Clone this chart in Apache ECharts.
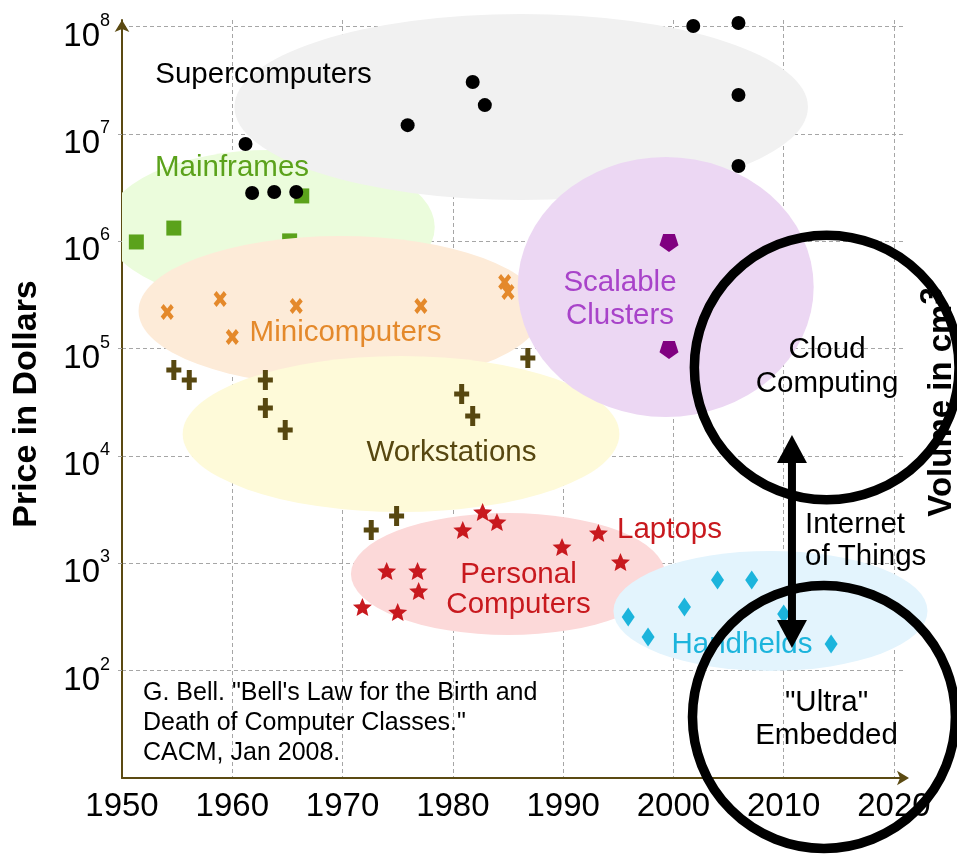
<!DOCTYPE html>
<html><head><meta charset="utf-8">
<script src="https://cdn.jsdelivr.net/npm/echarts@6/dist/echarts.min.js"></script>
<style>html,body{margin:0;padding:0;background:#fff}#c{width:957px;height:854px}</style>
</head><body><div id="c"></div>
<script>
const FONT = '"Liberation Sans", Arial, Helvetica, sans-serif';

// ---------- data (years / prices in dollars) ----------
const superYears  = [1961.2, 1961.8, 1963.8, 1965.8, 1975.9, 1981.8, 1982.9, 2001.8, 2005.9, 2005.9, 2005.9];
const superPrices = [8.07e6, 2.82e6, 2.88e6, 2.88e6, 1.21e7, 3.05e7, 1.86e7, 1.015e8, 1.083e8, 2.31e7, 5.04e6];

const mainYears  = [1951.3, 1954.7, 1966.3, 1965.2];
const mainPrices = [9.87e5, 1.33e6, 2.65e6, 1.01e6];

const miniYears  = [1954.1, 1958.9, 1960.0, 1965.8, 1977.1, 1984.7, 1985.0];
const miniPrices = [2.2e5, 2.9e5, 1.285e5, 2.5e5, 2.5e5, 4.18e5, 3.375e5];

const wsYears  = [1954.7, 1956.1, 1963.0, 1963.0, 1964.8, 1986.8, 1980.8, 1981.8, 1974.9, 1972.6];
const wsPrices = [6.33e4, 5.11e4, 5.11e4, 2.8e4, 1.75e4, 8.19e4, 3.79e4, 2.36e4, 2.76e3, 2.05e3];

const pcYears  = [1982.7, 1984.0, 1980.9, 1989.9, 1993.2, 1995.2, 1974.0, 1976.8, 1976.9, 1971.8, 1975.0];
const pcPrices = [3010, 2430, 2050, 1420, 1920, 1030, 849, 849, 553, 392, 352];

const clusterYears  = [1999.6, 1999.6];
const clusterPrices = [9.65e5, 9.72e4];

const handYears  = [2004.0, 2007.1, 2001.0, 1995.9, 1997.7, 2010.0, 2014.3];
const handPrices = [699, 699, 392, 316, 206, 337, 177];

// class regions: centre year, centre price, half-width (years), half-height (decades)
const regionNames        = ['Mainframes', 'Supercomputers', 'Minicomputers', 'Workstations', 'Scalable Clusters', 'Personal Computers', 'Handhelds'];
const regionYears        = [1963.4, 1986.2, 1969.8, 1975.3, 1999.3, 1985.0, 2008.8];
const regionPrices       = [1.361e6, 1.786e7, 2.244e5, 1.603e4, 3.758e5, 796, 360];
const regionHalfYears    = [14.96, 26.0, 18.3, 19.8, 13.42, 14.24, 14.24];
const regionHalfDecades  = [0.717, 0.867, 0.699, 0.727, 1.211, 0.568, 0.559];

// outlined circles: centre year, centre price, radius (years)
const ringNames  = ['Cloud Computing', 'Ultra Embedded'];
const ringYears  = [2013.9, 2013.65];
const ringPrices = [6.68e4, 37];
const ringRadius = [12.0, 11.92];

// Internet of Things double arrow: year, top price, bottom price
const iotArrow = [2010.75, 1.57e4, 163];

const xTickYears = [1950, 1960, 1970, 1980, 1990, 2000, 2010, 2020];

// ---------- styles ----------
const regionColors = ['#ebfcdc', '#f1f1f1', '#fdebd8', '#fefad9', '#ecd7f3', '#fcd9d9', '#e3f4fd'];

function pts(ys, ps) { return ys.map((y, i) => [y, ps[i]]); }
function regionItem(i) { return [regionYears[i], regionPrices[i], regionHalfYears[i], regionHalfDecades[i], i]; }

function starPath(inner) {
  const p = [];
  for (let i = 0; i < 10; i++) {
    const r = i % 2 === 0 ? 1 : inner;
    const a = -Math.PI / 2 + i * Math.PI / 5;
    p.push((r * Math.cos(a) * 50 + 50).toFixed(2) + ',' + (r * Math.sin(a) * 50 + 50).toFixed(2));
  }
  return 'path://M' + p.join(' L') + ' Z';
}
function pentaDownPath() {
  const p = [];
  for (let i = 0; i < 5; i++) {
    const a = Math.PI / 2 + i * 2 * Math.PI / 5;
    p.push((Math.cos(a) * 50 + 50).toFixed(2) + ',' + (Math.sin(a) * 50 + 50).toFixed(2));
  }
  return 'path://M' + p.join(' L') + ' Z';
}
const xPath = 'path://M0,2.2 L2.2,0 L5,2.8 L7.8,0 L10,2.2 L7.2,5 L10,7.8 L7.8,10 L5,7.2 L2.2,10 L0,7.8 L2.8,5 Z';
const plusPath = 'path://M5,0 H10 V7.5 H15 V12.5 H10 V20 H5 V12.5 H0 V7.5 H5 Z';

function renderRegion(params, api) {
  const cx = api.value(0), cp = api.value(1), hw = api.value(2), hd = api.value(3), ci = api.value(4);
  const c = api.coord([cx, cp]);
  const ex = api.coord([cx + hw, cp]);
  const ey = api.coord([cx, cp * Math.pow(10, hd)]);
  const rx = ex[0] - c[0], ry = c[1] - ey[1];
  return {
    type: 'circle', x: c[0], y: c[1], scaleX: 1, scaleY: ry / rx,
    shape: { cx: 0, cy: 0, r: rx },
    style: { fill: regionColors[ci], stroke: null }
  };
}
function renderRing(params, api) {
  const cx = api.value(0), cp = api.value(1), r = api.value(2);
  const c = api.coord([cx, cp]);
  const e = api.coord([cx + r, cp]);
  return { type: 'circle', shape: { cx: c[0], cy: c[1], r: e[0] - c[0] },
    style: { fill: 'none', stroke: '#000', lineWidth: 9.5 } };
}
function renderArrow(params, api) {
  const t = api.coord([api.value(0), api.value(1)]);
  const b = api.coord([api.value(0), api.value(2)]);
  const hl = 28, hw = 15;
  return { type: 'group', children: [
    { type: 'line', shape: { x1: t[0], y1: t[1] + hl - 2, x2: b[0], y2: b[1] - hl + 2 }, style: { stroke: '#000', lineWidth: 8 } },
    { type: 'polygon', shape: { points: [[t[0], t[1]], [t[0] - hw, t[1] + hl], [t[0] + hw, t[1] + hl]] }, style: { fill: '#000' } },
    { type: 'polygon', shape: { points: [[b[0], b[1]], [b[0] - hw, b[1] - hl], [b[0] + hw, b[1] - hl]] }, style: { fill: '#000' } }
  ] };
}

function label(text, x, y, color, opts) {
  opts = opts || {};
  const size = opts.size || 29.5;
  return {
    type: 'text', x: x, y: y, z: 6,
    style: {
      text: text, fill: color, font: size + 'px ' + FONT,
      align: opts.align || 'center', verticalAlign: 'middle',
      textAlign: opts.align || 'center', textVerticalAlign: 'middle',
      lineHeight: opts.lh || 33
    }
  };
}

const chart = echarts.init(document.getElementById('c'), null, { renderer: 'canvas' });
chart.setOption({
  animation: false,
  backgroundColor: '#fff',
  grid: { left: 122, right: 52, top: 20, bottom: 76, containLabel: false, outerBoundsMode: 'none' },
  xAxis: {
    type: 'value', min: 1950, max: 2021, interval: 10,
    axisLine: { show: true, onZero: false, lineStyle: { color: '#5b4a12', width: 2 },
      symbol: ['none', 'arrow'], symbolSize: [11, 12], symbolOffset: [0, 4] },
    axisTick: { show: false },
    axisLabel: { fontSize: 33, color: '#000', fontFamily: FONT, margin: 12, showMaxLabel: false,
      formatter: v => (xTickYears.indexOf(v) >= 0 ? String(v) : '') },
    splitLine: { show: true, showMinLine: false, showMaxLine: false,
      lineStyle: { color: '#a6a6a6', type: [4, 3], width: 1 } }
  },
  yAxis: {
    type: 'log', logBase: 10, min: 10, max: 1.1545e8, splitNumber: 7,
    name: 'Price in Dollars', nameLocation: 'middle', nameGap: 78,
    nameTextStyle: { fontSize: 34, fontWeight: 'bold', color: '#000', fontFamily: FONT, padding: [0, 10, 0, 0] },
    axisLine: { show: true, onZero: false, lineStyle: { color: '#5b4a12', width: 2 },
      symbol: ['none', 'arrow'], symbolSize: [11, 12], symbolOffset: [0, 0] },
    axisTick: { show: true, length: 5, lineStyle: { color: '#a6a6a6', type: [4, 3] } },
    axisLabel: {
      margin: 12, showMinLabel: false, showMaxLabel: false, padding: [20, 0, 0, 0],
      formatter: v => {
        const l = Math.log10(v), e = Math.round(l);
        if (Math.abs(l - e) > 1e-6) return '';
        return '{b|10}{s|' + e + '}';
      },
      rich: {
        b: { fontSize: 33, lineHeight: 50, color: '#000', fontFamily: FONT },
        s: { fontSize: 18, lineHeight: 18, verticalAlign: 'top', color: '#000', fontFamily: FONT }
      }
    },
    splitLine: { show: true, showMinLine: false, showMaxLine: false,
      lineStyle: { color: '#a6a6a6', type: [4, 3], width: 1 } }
  },
  series: [
    { name: 'Mainframes region', type: 'custom', z: 1, clip: true, renderItem: renderRegion,
      encode: { x: 0, y: 1 }, data: [regionItem(0)], silent: true },
    { name: 'Supercomputers region', type: 'custom', z: 2, renderItem: renderRegion,
      encode: { x: 0, y: 1 }, data: [regionItem(1)], silent: true },
    { name: 'Mainframes', type: 'scatter', z: 3, symbol: 'rect', symbolSize: 15,
      itemStyle: { color: '#5ba21b', opacity: 1 }, data: pts(mainYears, mainPrices) },
    { name: 'Other regions', type: 'custom', z: 4, renderItem: renderRegion,
      encode: { x: 0, y: 1 }, data: [2, 3, 4, 5, 6].map(regionItem), silent: true },
    { name: 'Supercomputers', type: 'scatter', z: 5, symbol: 'circle', symbolSize: 14,
      itemStyle: { color: '#000', opacity: 1 }, data: pts(superYears, superPrices) },
    { name: 'Minicomputers', type: 'scatter', z: 5, symbol: xPath, symbolSize: [13, 16],
      itemStyle: { color: '#e4892b', opacity: 1 }, data: pts(miniYears, miniPrices) },
    { name: 'Workstations', type: 'scatter', z: 5, symbol: plusPath, symbolSize: [15, 20],
      itemStyle: { color: '#574710', opacity: 1 }, data: pts(wsYears, wsPrices) },
    { name: 'Personal Computers', type: 'scatter', z: 5, symbol: starPath(0.45), symbolSize: [19, 18],
      itemStyle: { color: '#c8191e', opacity: 1 }, data: pts(pcYears, pcPrices) },
    { name: 'Scalable Clusters', type: 'scatter', z: 5, symbol: pentaDownPath(), symbolSize: [19, 18],
      itemStyle: { color: '#800080', opacity: 1 }, data: pts(clusterYears, clusterPrices) },
    { name: 'Handhelds', type: 'scatter', z: 5, symbol: 'diamond', symbolSize: [13, 19],
      itemStyle: { color: '#1cb4dc', opacity: 1 }, data: pts(handYears, handPrices) },
    { name: 'Rings', type: 'custom', z: 7, renderItem: renderRing, encode: { x: 0, y: 1 },
      data: ringYears.map((y, i) => [y, ringPrices[i], ringRadius[i]]), silent: true },
    { name: 'Internet of Things', type: 'custom', z: 7, renderItem: renderArrow, encode: { x: 0, y: 1 },
      data: [iotArrow], silent: true }
  ],
  graphic: { elements: [
    label('Supercomputers', 263.5, 74.5, '#000'),
    label('Mainframes', 232, 167.5, '#5ba21b'),
    label('Minicomputers', 345.5, 333, '#e4892b'),
    label('Workstations', 451.5, 453, '#574710'),
    label('Scalable\nClusters', 620, 299.5, '#a843c9', { lh: 33.5 }),
    label('Cloud\nComputing', 827, 367, '#000', { lh: 34 }),
    label('Internet\nof Things', 805, 541, '#000', { align: 'left', lh: 32 }),
    label('Laptops', 617, 530, '#c8191e', { align: 'left' }),
    label('Personal\nComputers', 518.5, 590, '#c8191e', { lh: 30 }),
    label('Handhelds', 742, 645, '#1cb4dc'),
    label('"Ultra"\nEmbedded', 826.5, 719, '#000', { lh: 33 }),
    label('G. Bell. "Bell\'s Law for the Birth and\nDeath of Computer Classes."\nCACM, Jan 2008.', 143, 723, '#000', { align: 'left', size: 25, lh: 30 }),
    { type: 'text', x: 942, y: 402, rotation: Math.PI / 2, z: 6,
      style: { text: '{a|Volume in cm}{b|3}', align: 'center', verticalAlign: 'middle',
        textAlign: 'center', textVerticalAlign: 'middle',
        rich: {
          a: { fontSize: 33, fontWeight: 'bold', fontFamily: FONT, fill: '#000', lineHeight: 48 },
          b: { fontSize: 31, fontWeight: 'bold', fontFamily: FONT, fill: '#000', lineHeight: 34, verticalAlign: 'top' }
        } } }
  ] }
});
</script>
</body></html>
